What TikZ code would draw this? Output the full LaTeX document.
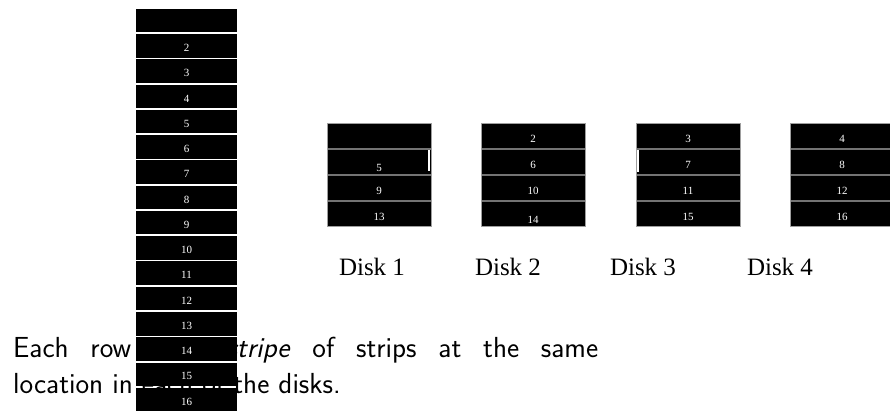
\documentclass[tikz,border=0pt]{standalone}
\usepackage{fontspec}
\newfontfamily\serfont{Liberation Serif}
\definecolor{rowgray}{gray}{0.45}
\definecolor{boxgray}{gray}{0.62}
\tikzset{
  stripbox/.style={fill=black, draw=none, minimum width=101pt, minimum height=23.5pt, inner sep=0pt, outer sep=0pt, anchor=north west},
  numlbl/.style={text=white, font=\serfont\fontsize{11}{11}\selectfont, inner sep=0pt},
  diskrow/.style={fill=black, draw=rowgray, line width=0.7pt, minimum width=104pt, minimum height=25.5pt, inner sep=0pt, outer sep=0pt, anchor=north west},
  disklbl/.style={font=\serfont\fontsize{25}{25}\selectfont, inner sep=0pt, anchor=base},
  sentence/.style={anchor=base west, text width=585pt, align=justify, inner sep=0pt, font=\sffamily\fontsize{29}{36}\selectfont}
}
\begin{document}
\begin{tikzpicture}[x=1pt,y=-1pt]
\useasboundingbox (0,0) rectangle (890,419);
\node[sentence] (txt) at (13,357) {\hyphenpenalty=10000 Each row is a \textit{stripe} of strips at the same\linebreak location in each of the disks.};
% strip column
\foreach \i in {1,...,16} {
  \node[stripbox] (s\i) at (136,{9+(\i-1)*25.25}) {};
}
\foreach \i in {2,...,16} {
  \node[numlbl] (sl\i) at ([yshift=-2pt]s\i.center) {\i};
}
% disks
\foreach \d/\x in {1/327,2/481,3/636,4/790} {
  \foreach \r in {1,...,4} {
    \node[diskrow] (d\d-\r) at (\x,{123+(\r-1)*26}) {};
  }
  \draw[boxgray, line width=0.9pt] (d\d-1.north west) rectangle (d\d-4.south east);
}
\foreach \d in {1,...,4} {
  \foreach \r in {1,...,4} {
    \pgfmathtruncatemacro{\num}{\d+4*(\r-1)}
    \ifnum\num=1\relax\else
      \ifnum\num=5\relax
        \node[numlbl] (dl\d-\r) at ([yshift=-6pt]d\d-\r.center) {\num};
      \else\ifnum\num=14\relax
        \node[numlbl] (dl\d-\r) at ([yshift=-6pt]d\d-\r.center) {\num};
      \else
        \node[numlbl] (dl\d-\r) at ([yshift=-3pt]d\d-\r.center) {\num};
      \fi\fi
    \fi
  }
}
% white edge marks
\fill[white] ([xshift=-3pt,yshift=-1pt]d1-2.north east) rectangle ([xshift=-1pt,yshift=3pt]d1-2.south east);
\fill[white] ([xshift=1pt,yshift=-1pt]d3-2.north west) rectangle ([xshift=3pt,yshift=2pt]d3-2.south west);
% disk labels
\node[disklbl] (k1) at (372,276) {Disk 1};
\node[disklbl] (k2) at (508,276) {Disk 2};
\node[disklbl] (k3) at (643,276) {Disk 3};
\node[disklbl] (k4) at (780,276) {Disk 4};
\end{tikzpicture}
\end{document}
